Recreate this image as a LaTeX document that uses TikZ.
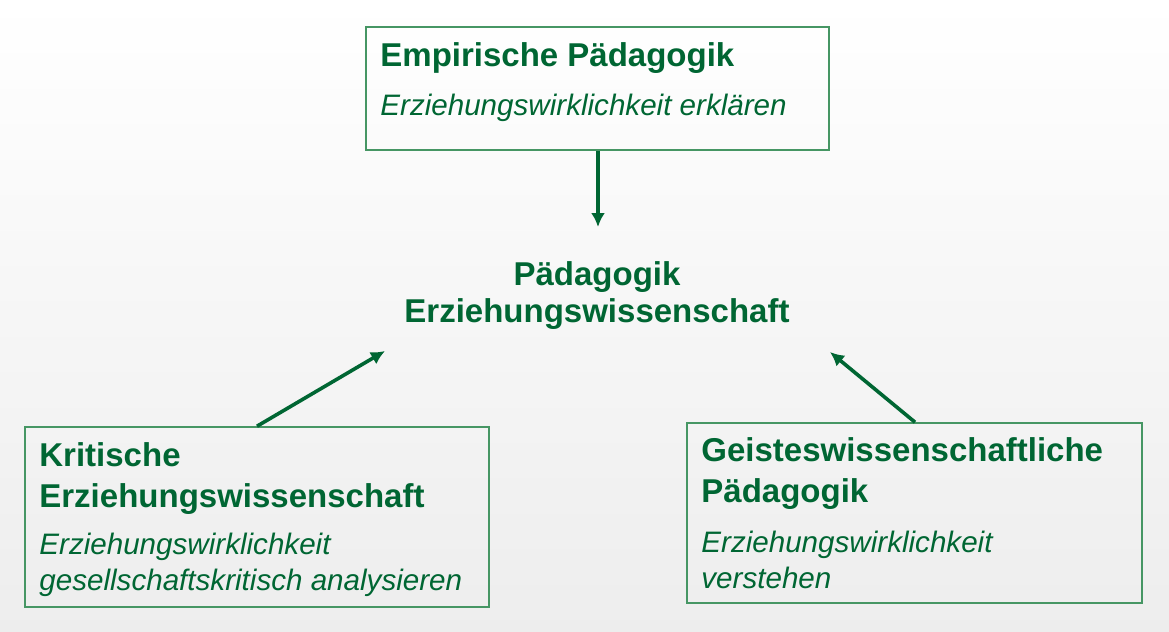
\documentclass[tikz,border=0pt]{standalone}
\usepackage{fontspec}
\setmainfont{Liberation Sans}
\usetikzlibrary{arrows.meta,fit}

\definecolor{paedgreen}{RGB}{0,102,51}
\definecolor{paedframe}{RGB}{70,150,100}

\tikzset{
    schoolbox/.style={draw=paedframe,line width=0.8pt,inner sep=0pt},
    headtext/.style={anchor=base west,align=left,inner sep=0pt,text=paedgreen,
        font=\fontsize{16.5}{20.5}\selectfont\bfseries},
    subtext/.style={anchor=base west,align=left,inner sep=0pt,text=paedgreen,
        font=\fontsize{14.8}{17.8}\selectfont\itshape},
    influence/.style={draw=paedgreen,line width=1.8pt,-{Latex[length=7pt,width=7pt]}}
}

\begin{document}
\begin{tikzpicture}[x=0.5pt,y=-0.5pt]
        % background
        \fill[top color=white,bottom color=black!7] (0,0) rectangle (1169,632);
        \useasboundingbox (0,0) rectangle (1169,632);

        % boxes
        \node[schoolbox,fit={(366,27) (829,150)}] (emp) {};
        \node[schoolbox,fit={(25,427) (489,607)}] (krit) {};
        \node[schoolbox,fit={(687,423) (1142,603)}] (geist) {};

        % texts (base = baseline of the last line)
        \node[headtext] (empHead) at (380,66) {Empirische Pädagogik};
        \node[subtext] (empSub) at (380,115) {Erziehungswirklichkeit erklären};
        \node[headtext] (kritHead) at (39,507) {Kritische\\Erziehungswissenschaft};
        \node[subtext] (kritSub) at (39,590) {Erziehungswirklichkeit\\gesellschaftskritisch analysieren};
        \node[headtext] (geistHead) at (701,502) {Geisteswissenschaftliche\\Pädagogik};
        \node[subtext] (geistSub) at (701,588) {Erziehungswirklichkeit\\verstehen};

        % centre
        \node[headtext,anchor=base,align=center,font=\fontsize{16.5}{18.5}\selectfont\bfseries]
            (paed) at (597,322) {Pädagogik\\Erziehungswissenschaft};
        \coordinate (paedTop) at (598,227);
        \coordinate (paedLeft) at (385,351);
        \coordinate (paedRight) at (830,352);

        % arrows
        \draw[influence] (emp.south -| paedTop) -- (paedTop);
        \draw[influence] (krit.north -| 257,0) -- (paedLeft);
        \draw[influence] (geist.north -| 915,0) -- (paedRight);
\end{tikzpicture}
\end{document}
